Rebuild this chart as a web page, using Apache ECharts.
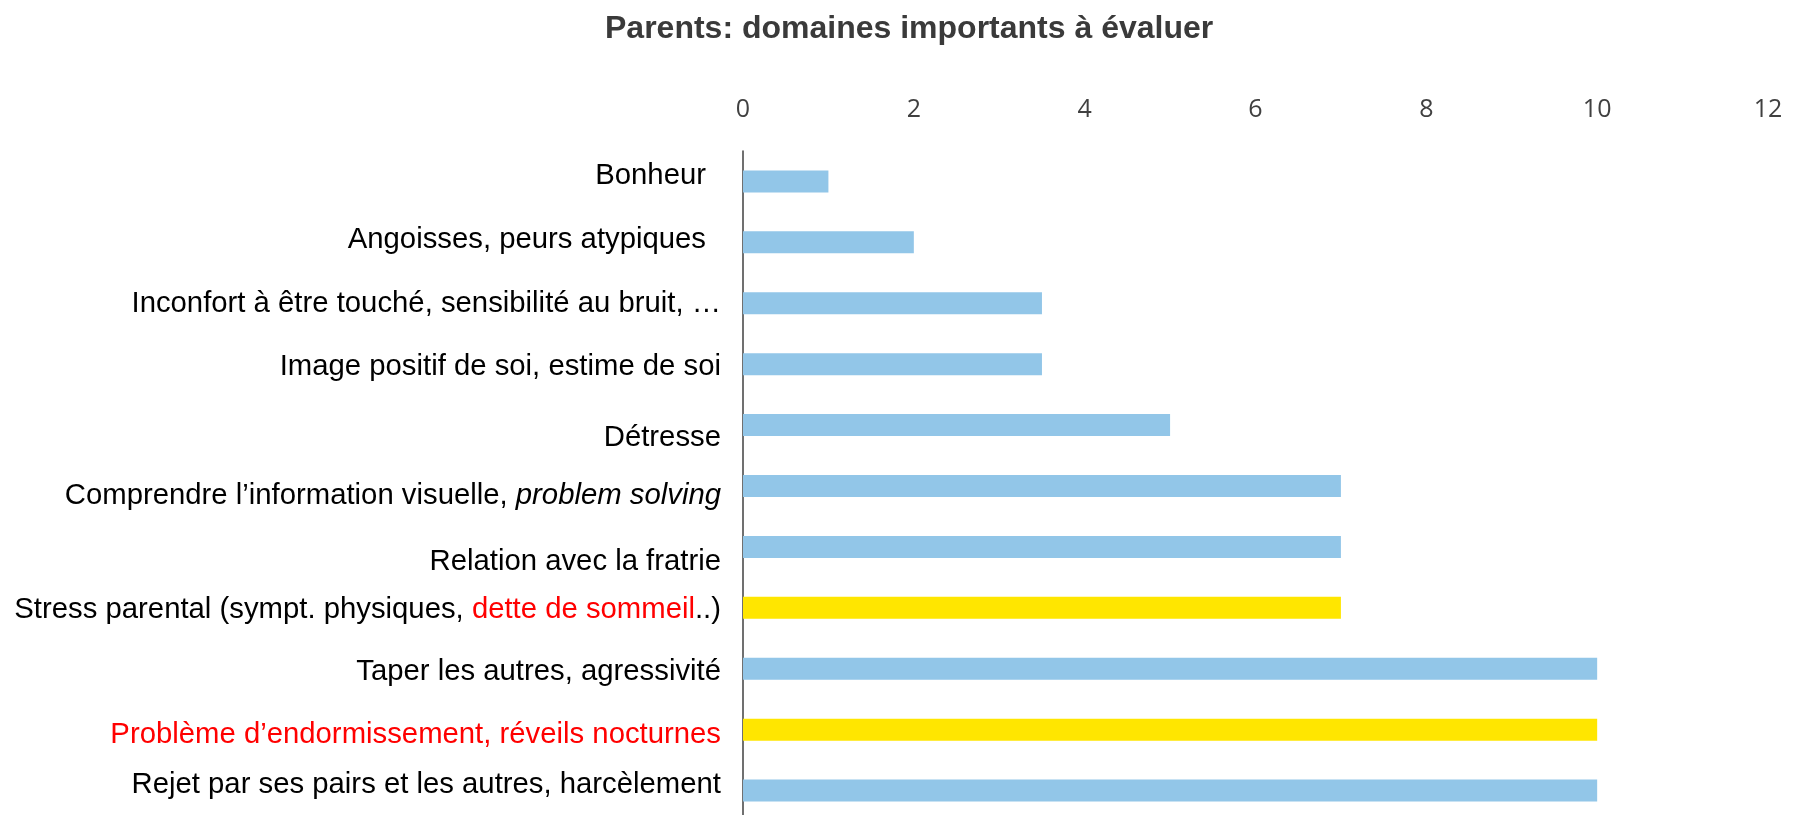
<!DOCTYPE html>
<html>
<head>
<meta charset="utf-8">
<script src="https://cdn.jsdelivr.net/npm/echarts@6/dist/echarts.min.js"></script>
<style>
  html, body { margin: 0; padding: 0; background: #fff; }
  #main { width: 1800px; height: 815px; }
</style>
</head>
<body>
<div id="main"></div>
<script>
// données
var categories = [
  'Bonheur',
  'Angoisses, peurs atypiques',
  'Inconfort à être touché, sensibilité au bruit, …',
  'Image positif de soi, estime de soi',
  'Détresse',
  'Comprendre l\u2019information visuelle, problem solving',
  'Relation avec la fratrie',
  'Stress parental (sympt. physiques, dette de sommeil..)',
  'Taper les autres, agressivité',
  'Problème d\u2019endormissement, réveils nocturnes',
  'Rejet par ses pairs et les autres, harcèlement'
];
var values = [1, 2, 3.5, 3.5, 5, 7, 7, 7, 10, 10, 10];
var highlighted = [7, 9]; // barres jaunes
var xTicks = [0, 2, 4, 6, 8, 10, 12];

// décalage vertical des libellés comme dans l'original (px, + = vers le bas)
var labelShift = [-6, -2, 1, 3, 13, 10, 15, 2, 3, 5, -6];
var labelRightPad = [15, 15, 0, 0, 0, 0, 0, 0, 0, 0, 0];

var myChart = echarts.init(document.getElementById('main'));

var labelFont = '"Liberation Sans", Arial, Helvetica, sans-serif';
var labelSize = 29.3;

// styles rich par libellé (normal / italique / rouge)
var rich = {};
categories.forEach(function (c, k) {
  var s = labelShift[k];
  var pad = [s > 0 ? 2 * s : 0, labelRightPad[k], s < 0 ? -2 * s : 0, 0];
  rich['n' + k] = { fontFamily: labelFont, fontSize: labelSize, color: '#000', padding: pad };
  rich['i' + k] = { fontFamily: labelFont, fontSize: labelSize, color: '#000', fontStyle: 'italic', padding: pad };
  rich['r' + k] = { fontFamily: labelFont, fontSize: labelSize, color: '#ff0000', padding: pad };
});

function labelFormatter(value, index) {
  var k = index;
  if (value.indexOf('problem solving') >= 0) {
    return '{n' + k + '|' + value.replace('problem solving', '') + '}{i' + k + '|problem solving}';
  }
  if (value.indexOf('dette de sommeil') >= 0) {
    var parts = value.split('dette de sommeil');
    return '{n' + k + '|' + parts[0] + '}{r' + k + '|dette de sommeil}{n' + k + '|' + parts[1] + '}';
  }
  if (value.indexOf('Problème') === 0) {
    return '{r' + k + '|' + value + '}';
  }
  return '{n' + k + '|' + value + '}';
}

var option = {
  animation: false,
  title: {
    text: 'Parents: domaines importants à évaluer',
    left: 600,
    top: 8,
    textStyle: {
      fontFamily: labelFont,
      fontSize: 32,
      fontWeight: 'bold',
      color: '#3a3a3a'
    }
  },
  grid: {
    left: 743,
    top: 151,
    width: 1025,
    height: 670,
    outerBoundsMode: 'none'
  },
  xAxis: {
    type: 'value',
    position: 'top',
    min: 0,
    max: 12,
    interval: 2,
    axisLine: { show: false },
    axisTick: { show: false },
    splitLine: { show: false },
    axisLabel: {
      margin: 29,
      fontFamily: '"Open Sans", sans-serif',
      fontSize: 25,
      color: '#404040',
      formatter: function (v) { return xTicks.indexOf(v) >= 0 ? String(v) : ''; }
    }
  },
  yAxis: {
    type: 'category',
    inverse: true,
    data: categories,
    axisLine: { show: true, lineStyle: { color: '#404040', width: 1.5 } },
    axisTick: { show: false },
    axisLabel: {
      margin: 22,
      formatter: labelFormatter,
      rich: rich
    }
  },
  series: [
    {
      type: 'bar',
      barWidth: 22,
      data: values,
      itemStyle: {
        color: function (p) {
          return highlighted.indexOf(p.dataIndex) >= 0 ? '#ffe600' : '#92c6e8';
        }
      }
    }
  ]
};

myChart.setOption(option);
</script>
</body>
</html>
